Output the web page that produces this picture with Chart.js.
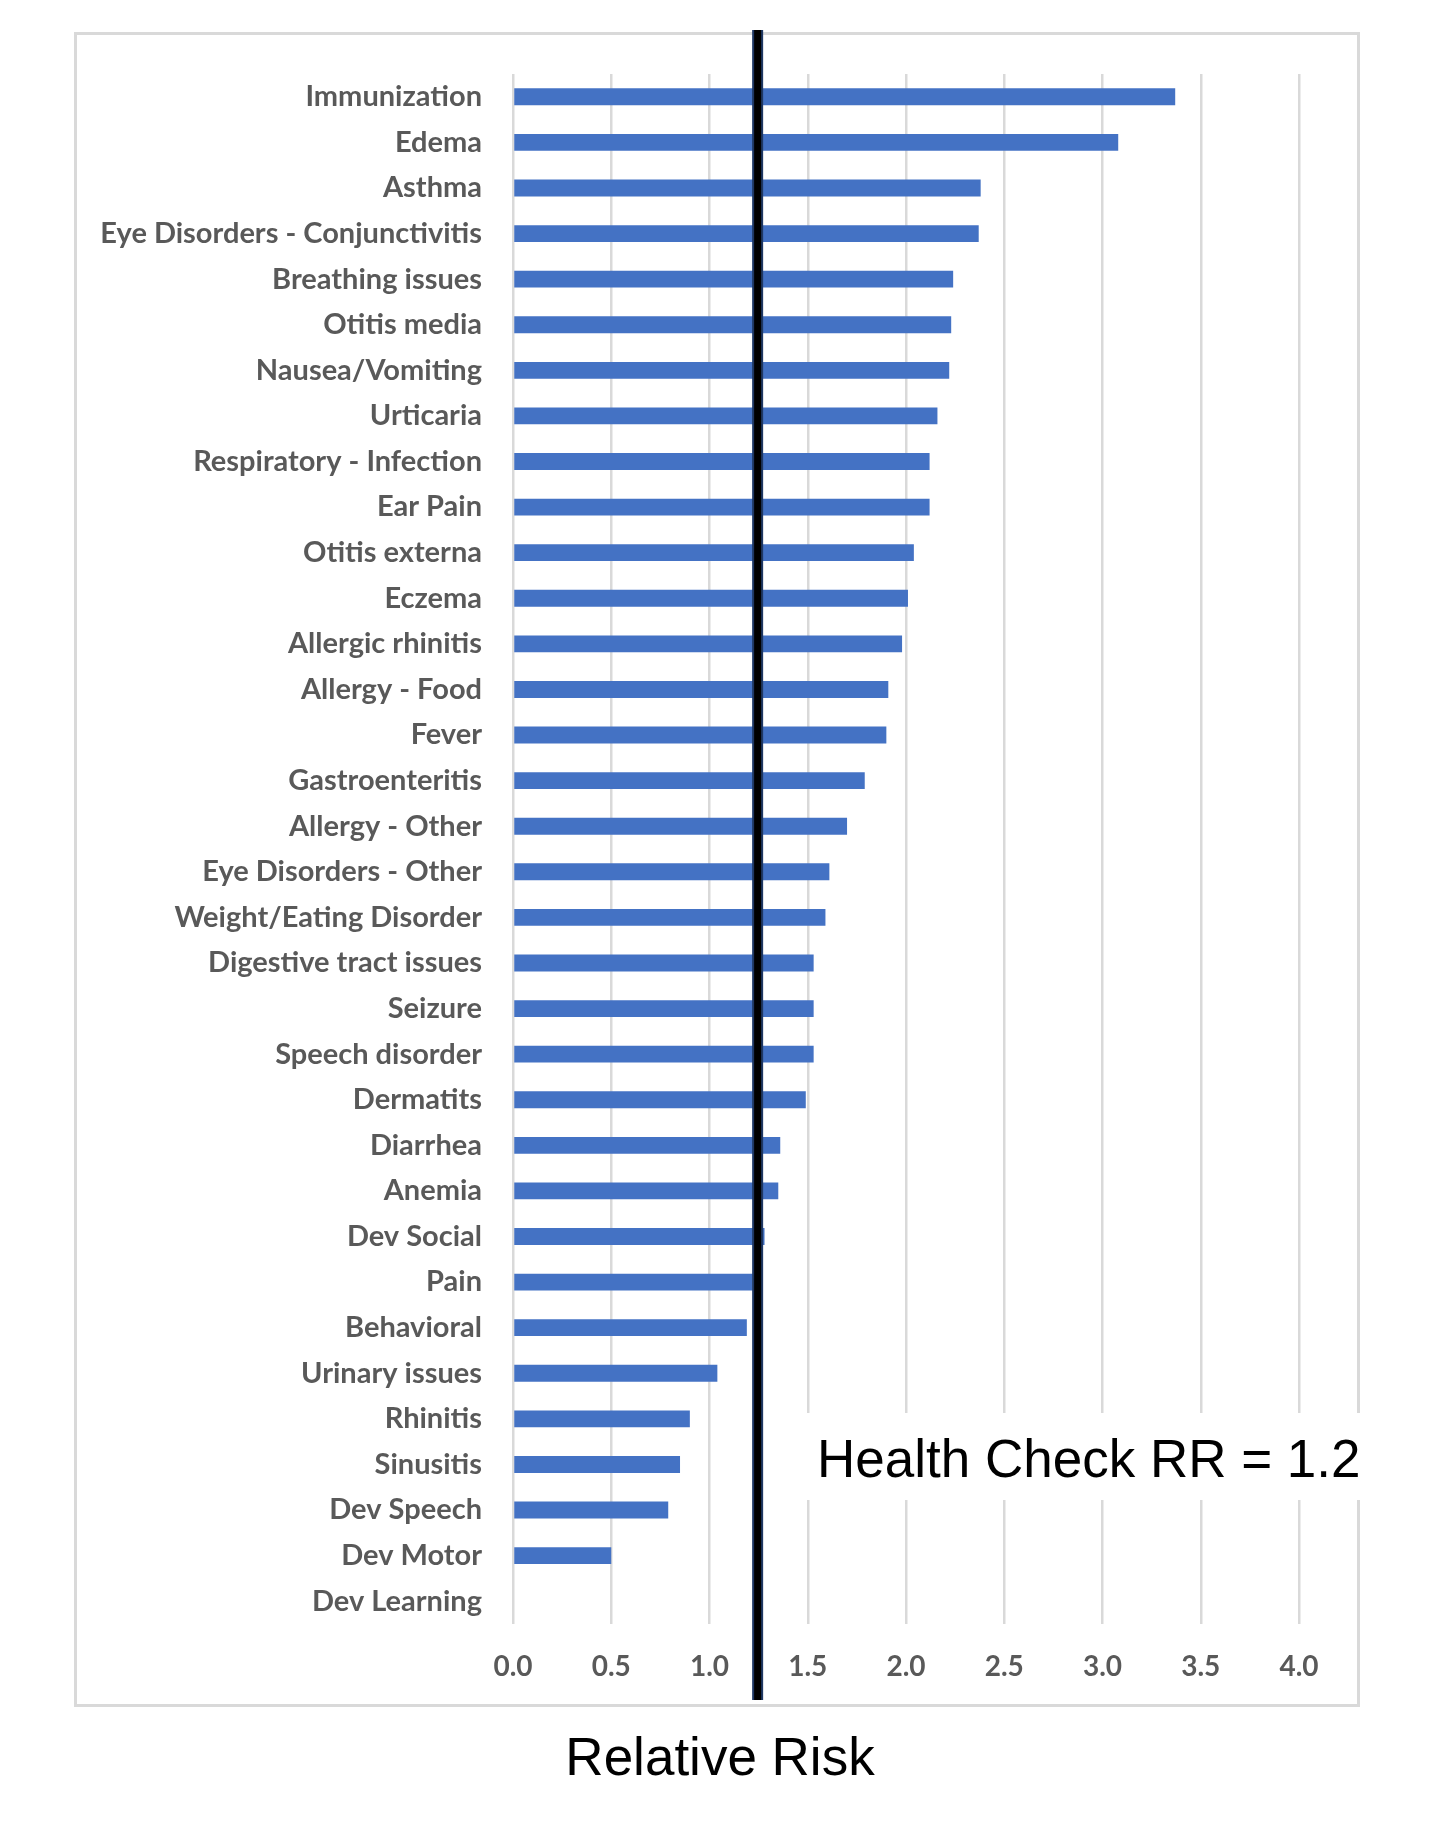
<!DOCTYPE html>
<html>
<head>
<meta charset="utf-8">
<script src="https://cdn.jsdelivr.net/npm/chart.js@4.4.1/dist/chart.umd.min.js"></script>
<style>
    html, body { margin: 0; padding: 0; background: #ffffff; }
    #wrap { width: 1456px; height: 1832px; }
</style>
</head>
<body>
<div id="wrap"><canvas id="rr-chart" width="1456" height="1832"></canvas></div>
<script>
"use strict";

// categories, top to bottom
const categories = [
    "Immunization", "Edema", "Asthma", "Eye Disorders - Conjunctivitis",
    "Breathing issues", "Otitis media", "Nausea/Vomiting", "Urticaria",
    "Respiratory - Infection", "Ear Pain", "Otitis externa", "Eczema",
    "Allergic rhinitis", "Allergy - Food", "Fever", "Gastroenteritis",
    "Allergy - Other", "Eye Disorders - Other", "Weight/Eating Disorder",
    "Digestive tract issues", "Seizure", "Speech disorder", "Dermatits",
    "Diarrhea", "Anemia", "Dev Social", "Pain", "Behavioral",
    "Urinary issues", "Rhinitis", "Sinusitis", "Dev Speech", "Dev Motor",
    "Dev Learning"
];

// relative risk
const rrValues = [
    3.37, 3.08, 2.38, 2.37,
    2.24, 2.23, 2.22, 2.16,
    2.12, 2.12, 2.04, 2.01,
    1.98, 1.91, 1.90, 1.79,
    1.70, 1.61, 1.59,
    1.53, 1.53, 1.53, 1.49,
    1.36, 1.35, 1.28, 1.22, 1.19,
    1.04, 0.90, 0.85, 0.79, 0.50,
    0
];

const axisMin = 0;
const axisMax = 4;
const axisStep = 0.5;

const healthCheckRR = 1.245;
const healthCheckLabel = "Health Check RR = 1.2";
const axisTitle = "Relative Risk";

const labelFont = "Lato, 'Open Sans', sans-serif";
const bigFont = "'Liberation Sans', Arial, sans-serif";

const overlay = {
    id: "overlay",
    beforeDraw(chart) {
        let ctx = chart.ctx;
        ctx.save();
        ctx.strokeStyle = "#d9d9d9";
        ctx.lineWidth = 3;
        ctx.strokeRect(75.5, 33.5, 1283, 1672);
        ctx.restore();
    },
    beforeDatasetsDraw(chart) {
        // white patch behind the RR note, it cuts the gridlines
        let ctx = chart.ctx;
        ctx.save();
        ctx.fillStyle = "#ffffff";
        ctx.fillRect(770, 1413, 600, 87);
        ctx.restore();
    },
    afterDatasetsDraw(chart) {
        let ctx = chart.ctx;
        let x = chart.scales.x.getPixelForValue(healthCheckRR);
        ctx.save();
        ctx.fillStyle = "#1f3864";
        ctx.fillRect(x - 5.5, 30, 11, 1670);
        ctx.fillStyle = "#000000";
        ctx.fillRect(x - 3.5, 30, 7, 1670);
        ctx.restore();
    },
    afterDraw(chart) {
        let ctx = chart.ctx;
        ctx.save();
        ctx.fillStyle = "#000000";
        ctx.font = "53px " + bigFont;
        ctx.textBaseline = "alphabetic";
        ctx.textAlign = "left";
        ctx.fillText(healthCheckLabel, 817, 1477);
        ctx.textAlign = "center";
        ctx.fillText(axisTitle, 720, 1775);
        ctx.restore();
    }
};

function run() {
    let canvas = document.getElementById("rr-chart");
    let chart = new Chart(canvas, {
        type: "bar",
        data: {
            labels: categories,
            datasets: [{
                label: "Relative Risk",
                data: rrValues,
                backgroundColor: "#4472c4",
                borderWidth: 0,
                barPercentage: 0.37,
                categoryPercentage: 1.0
            }]
        },
        options: {
            indexAxis: "y",
            responsive: false,
            animation: false,
            devicePixelRatio: 1,
            layout: {
                padding: { top: 74, right: 157, bottom: 0, left: 0 }
            },
            plugins: {
                legend: { display: false },
                tooltip: { enabled: false },
                title: { display: false }
            },
            scales: {
                x: {
                    min: axisMin,
                    max: axisMax,
                    border: { display: false },
                    grid: {
                        color: "#d9d9d9",
                        lineWidth: 2.5,
                        drawTicks: false
                    },
                    ticks: {
                        stepSize: axisStep,
                        padding: 26,
                        color: "#595959",
                        font: { family: labelFont, size: 28, weight: "bold" },
                        callback: function(v) { return Number(v).toFixed(1); }
                    },
                    afterFit: function(scale) { scale.height = 1832 - 1624; }
                },
                y: {
                    border: { display: false },
                    grid: { display: false, drawTicks: false },
                    ticks: {
                        padding: 31,
                        color: "#595959",
                        autoSkip: false,
                        font: { family: labelFont, size: 29, weight: "bold" }
                    },
                    afterFit: function(scale) { scale.width = 513; }
                }
            }
        },
        plugins: [overlay]
    });
    return chart;
}

document.addEventListener("DOMContentLoaded", function() {
    run();
});
</script>
</body>
</html>
